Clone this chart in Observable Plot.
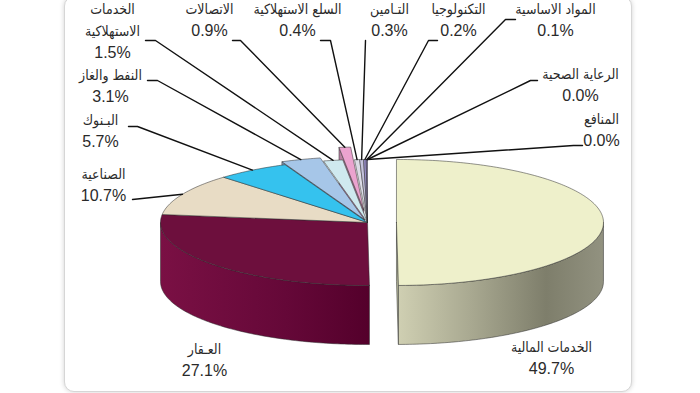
<!DOCTYPE html>
<html><head><meta charset="utf-8">
<script src="https://cdn.jsdelivr.net/npm/d3@7"></script>
<script src="https://cdn.jsdelivr.net/npm/@observablehq/plot@0.6"></script>
<style>
html,body{margin:0;padding:0;background:#fff;}
#wrap{position:relative;width:700px;height:393px;overflow:hidden;}
#card{position:absolute;left:64px;top:-4px;width:566px;height:394px;border-radius:10px;background:#fff;border:1px solid #d6d6d6;box-shadow:0 0 5px rgba(0,0,0,0.18);}
#chart{position:absolute;left:0;top:0;}
.names text{font-stretch:condensed;}
</style></head><body>
<div id="wrap"><div id="card"></div><div id="chart"></div></div>
<script>
// ---- data ----
const sectors = ["الخدمات المالية","العـقار","الصناعية","البـنوك","النفط والغاز","الخدمات\nالاستهلاكية","الاتصالات","السلع الاستهلاكية","التـامين","التكنولوجيا","المواد الاساسية","الرعاية الصحية","المنافع"];
const shares = [49.7, 27.1, 10.7, 5.7, 3.1, 1.5, 0.9, 0.4, 0.3, 0.2, 0.1, 0.0, 0.0];

// ---- styles / layout ----
const palette = ["#eef0cb","#6d0f3d","#e8dcc5","#35c2ee","#a6c6e8","#cfe9ef","#eba3cf","#dcdce6","#c4c2dc","#9a8fcb","#7b6db0","#5a5a9a","#444488"];
const explode = [0.14, 0, 0, 0, 0.05, 0, 0.2, 0, 0, 0, 0, 0, 0];
const wallFill = {0: "url(#gFin)", 1: "url(#gRe)"};
const geom = {cx: 367, cy: 222, rx: 207, ry: 63, depth: 59};
const lineStep = 22, nameDy = -2;
// label anchor (centre of first line), px from pie centre
const labelAt = [[184,124],[-163,126],[-264,-49],[-267,-103],[-257,-148],[-255,-214],[-158,-214],[-70,-214],[22,-214],[91,-214],[188,-214],[213,-149],[234,-104]];
// leader elbow [x0, x1, y], px from pie centre (null = no leader)
const leaderAt = [null,null,[-235,-235,-23],[-239,-230,-96],[-220,-210,-142],[-222,-212,-182],[-135,-127,-182],[-47,-37,-182],[-2,-2,-182],[70,61,-182],[148,138,-203],[170,163,-142],[215,206,-77]];

const {rx, ry, depth} = geom;
const arcs = d3.pie().sort(null).value(d => d)(shares);

function offsetOf(i) {
  const a = arcs[i], m = (a.startAngle + a.endAngle) / 2, e = explode[i];
  return [e * Math.sin(m), -e * Math.cos(m)];
}
function pt(th, off, down = 0) {
  return {x: (off[0] + Math.sin(th)) * rx, y: (off[1] - Math.cos(th)) * ry + down};
}
function arcPts(a, b, off, down = 0) {
  const n = Math.max(2, Math.ceil((b - a) / (Math.PI / 180)) + 1);
  return d3.range(n).map(k => pt(a + (b - a) * k / (n - 1), off, down));
}

const walls = [], tops = [];
arcs.forEach((arc, i) => {
  const a = arc.startAngle, b = arc.endAngle;
  if (b - a < 1e-9) return;
  const off = offsetOf(i);
  const c0 = {x: off[0] * rx, y: off[1] * ry}, c1 = {x: c0.x, y: c0.y + depth};
  const dark = d3.color(palette[i]).darker(0.7).formatHex();
  const a2 = Math.max(a, Math.PI / 2), b2 = Math.min(b, 3 * Math.PI / 2);
  if (b2 > a2) {
    const pts = [...arcPts(a2, b2, off), ...arcPts(a2, b2, off, depth).reverse()];
    pts.push(pts[0]);
    walls.push({pts, fill: wallFill[i] || dark, key: off[1] - Math.cos((a2 + b2) / 2) + 1});
  }
  if (explode[i] > 0) {
    if (Math.sin(a) < -1e-6) {
      const r0 = pt(a, off), r1 = pt(a, off, depth);
      walls.push({pts: [c0, r0, r1, c1, c0], fill: dark, key: off[1] - Math.cos(a) / 2});
    }
    if (Math.sin(b) > 1e-6) {
      const r0 = pt(b, off), r1 = pt(b, off, depth);
      walls.push({pts: [c0, r0, r1, c1, c0], fill: dark, key: off[1] - Math.cos(b) / 2});
    }
  }
  tops.push({pts: [c0, ...arcPts(a, b, off), c0], fill: palette[i]});
});
walls.sort((p, q) => p.key - q.key);

const names = sectors.map((s, i) => ({text: s, x: labelAt[i][0], y: labelAt[i][1] + nameDy}));
const pcts = sectors.map((s, i) => ({
  text: shares[i].toFixed(1) + "%",
  x: labelAt[i][0], y: labelAt[i][1] + lineStep * s.split("\n").length
}));
const leaders = [];
arcs.forEach((arc, i) => {
  const L = leaderAt[i];
  if (!L) return;
  const m = (arc.startAngle + arc.endAngle) / 2;
  const end = pt(m, offsetOf(i));
  leaders.push({id: i, x: L[0], y: L[2]}, {id: i, x: L[1], y: L[2]}, {id: i, x: end.x, y: end.y});
});

const polyMark = f => Plot.line(f.pts, {x: "x", y: "y", fill: f.fill, stroke: "#2b2b2b", strokeWidth: 0.6, strokeOpacity: 0.85});

const plot = Plot.plot({
  width: 700, height: 393, margin: 0,
  x: {domain: [-geom.cx, 700 - geom.cx], range: [0, 700], axis: null},
  y: {domain: [-geom.cy, 393 - geom.cy], range: [0, 393], axis: null},
  style: {background: "transparent", fontFamily: "'Liberation Sans', Arial, 'DejaVu Sans', sans-serif", overflow: "visible"},
  marks: [
    walls.map(polyMark),
    tops.map(polyMark),
    Plot.line(leaders, {x: "x", y: "y", z: "id", stroke: "#111", strokeWidth: 1.4}),
    Plot.text(names, {x: "x", y: "y", text: "text", fontSize: 14, lineAnchor: "middle", lineHeight: 22 / 14, textAnchor: "middle", fill: "#2a2a2a", className: "names"}),
    Plot.text(pcts, {x: "x", y: "y", text: "text", fontSize: 16, lineAnchor: "middle", textAnchor: "middle", fill: "#2a2a2a"})
  ]
});

const svg = d3.select(plot);
// multi-line names: keep first line centred on its anchor
svg.selectAll(".names text").each(function() {
  const n = this.querySelectorAll("tspan").length;
  if (n > 1) d3.select(this).attr("transform", function() {
    return (this.getAttribute("transform") || "") + ` translate(0,${(n - 1) * lineStep / 2})`;
  });
});
const defs = svg.insert("defs", ":first-child");
const grad = (id, stops) => {
  const g = defs.append("linearGradient").attr("id", id).attr("x1", "0").attr("x2", "1").attr("y1", "0").attr("y2", "0");
  stops.forEach(([o, c]) => g.append("stop").attr("offset", o).attr("stop-color", c));
};
grad("gFin", [[0, "#cfcfb2"], [0.35, "#a9a991"], [0.72, "#7e7e6b"], [1, "#929280"]]);
grad("gRe", [[0, "#7a1044"], [0.6, "#650838"], [1, "#54002b"]]);
document.getElementById("chart").appendChild(plot);
</script>
</body></html>
